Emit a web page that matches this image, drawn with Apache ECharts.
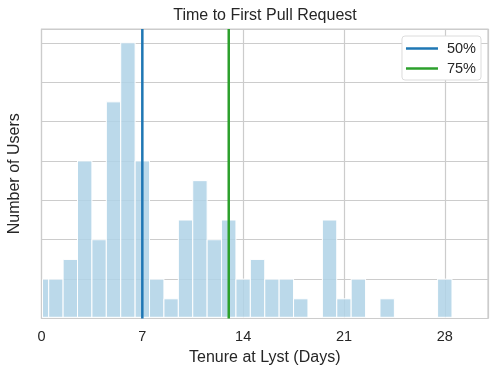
<!DOCTYPE html>
<html><head><meta charset="utf-8">
<script src="https://cdn.jsdelivr.net/npm/echarts@6/dist/echarts.min.js"></script>
<style>html,body{margin:0;padding:0;background:#fff}#c{width:498px;height:375px}</style>
</head><body><div id="c"></div>
<script>
const days = [0,1,2,3,4,5,6,7,8,9,10,11,12,13,14,15,16,17,18,19,20,21,22,23,24,25,26,27,28];
const users = [2,2,3,8,4,11,14,8,2,1,5,7,4,5,2,3,2,2,1,0,5,1,2,0,1,0,0,0,2];
const xTicks = [0,7,14,21,28];
const p50 = 7;
const p75 = 13;
const yMax = 14.7;

const font = 'Liberation Sans, Arial, sans-serif';
const chart = echarts.init(document.getElementById('c'), null, {renderer:'canvas'});
const barData = days.map((d,i)=>[d, users[i]]);

chart.setOption({
  animation:false,
  textStyle:{fontFamily:font},
  title:{text:'Time to First Pull Request', left:265, top:8, textAlign:'center', padding:0,
    textStyle:{fontFamily:font, fontSize:16, fontWeight:'normal', color:'#262626'}},
  legend:{right:17, top:36, orient:'vertical', itemGap:5, itemWidth:32, itemHeight:2.5, icon:'rect',
    backgroundColor:'#fff', borderColor:'#dcdcdc', borderWidth:1, borderRadius:3, padding:[5,5,4,4],
    textStyle:{fontFamily:font, fontSize:14.5, color:'#262626', padding:[0,0,0,4]},
    data:['50%','75%']},
  grid:{left:41.5, right:10, top:29, bottom:56.5, show:true, borderColor:'#cccccc', borderWidth:1.2, z:1,
    outerBoundsMode:'none', containLabel:false},
  xAxis:{type:'value', min:0, max:31, interval:7,
    name:'Tenure at Lyst (Days)', nameLocation:'middle', nameGap:30,
    nameTextStyle:{fontFamily:font, fontSize:16, color:'#262626'},
    axisLine:{show:false}, axisTick:{show:false},
    axisLabel:{fontFamily:font, fontSize:14.5, color:'#262626', margin:11, showMaxLabel:false,
      formatter:v=> xTicks.includes(v)? String(v):''},
    splitLine:{show:true, lineStyle:{color:'#cccccc', width:1.2}}},
  yAxis:{type:'value', min:0, max:yMax, interval:2,
    name:'Number of Users', nameLocation:'middle', nameGap:19,
    nameTextStyle:{fontFamily:font, fontSize:16, color:'#262626'},
    axisLine:{show:false}, axisTick:{show:false}, axisLabel:{show:false},
    splitLine:{show:true, lineStyle:{color:'#cccccc', width:1.2}}},
  series:[
    {type:'custom', name:'hist', data:barData, z:2,
      renderItem:function(params, api){
        const d = api.value(0), v = api.value(1);
        if (!v) return;
        const p0 = api.coord([d-0.5, v]);
        const p1 = api.coord([d+0.5, 0]);
        const cs = params.coordSys;
        const shape = echarts.graphic.clipRectByRect(
          {x:p0[0], y:p0[1], width:p1[0]-p0[0], height:p1[1]-p0[1]},
          {x:cs.x+1, y:cs.y, width:cs.width-1, height:cs.height-1.2});
        return {type:'rect', shape:shape,
          style:{fill:'rgba(175,210,230,0.85)', stroke:'#ffffff', lineWidth:1}};
      }},
    {type:'line', name:'50%', data:[[p50,0],[p50,yMax]], showSymbol:false, symbol:'none', z:3,
      color:'#1f77b4', lineStyle:{color:'#1f77b4', width:2.5}},
    {type:'line', name:'75%', data:[[p75,0],[p75,yMax]], showSymbol:false, symbol:'none', z:3,
      color:'#2ca02c', lineStyle:{color:'#2ca02c', width:2.5}}
  ]
});
</script></body></html>
